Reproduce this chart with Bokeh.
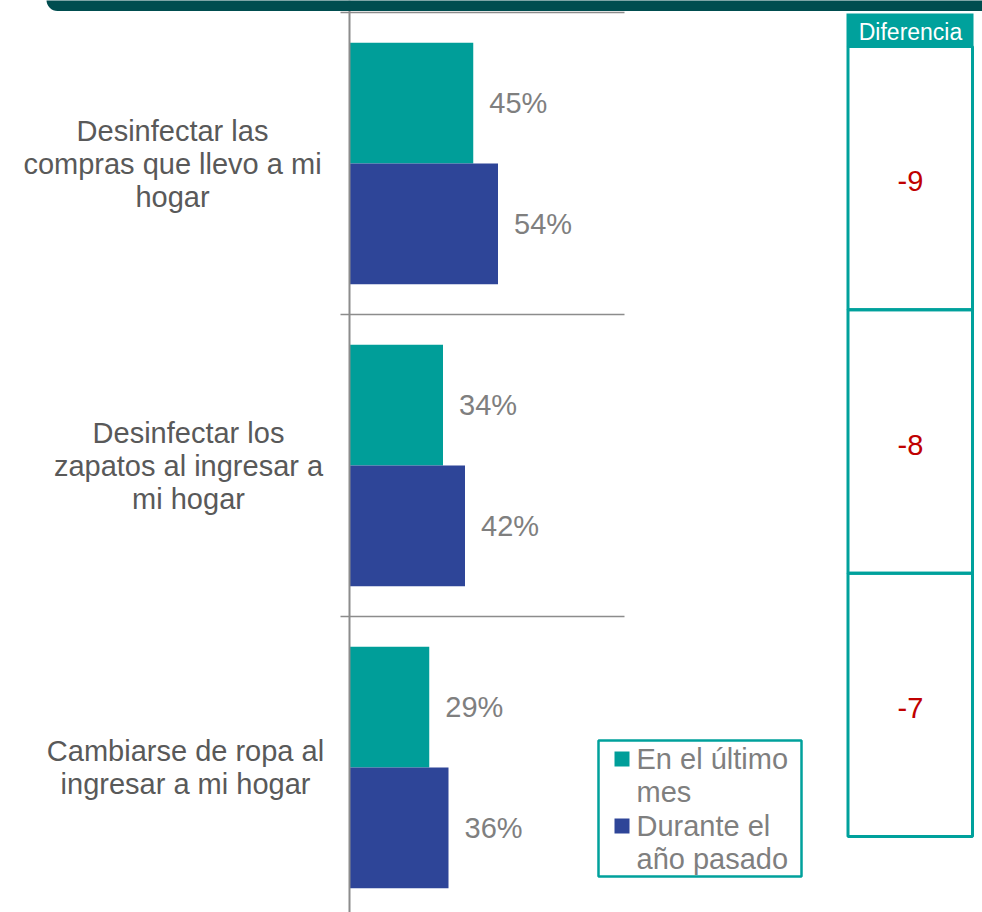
from bokeh.plotting import figure
from bokeh.models import Range1d, LabelSet, Label, BoxAnnotation, ColumnDataSource, Span
from bokeh.embed import file_html
from bokeh.resources import INLINE
from bokeh.core.properties import value

# ---------------- data ----------------
categories = [
    "Desinfectar las compras que llevo a mi hogar",
    "Desinfectar los zapatos al ingresar a mi hogar",
    "Cambiarse de ropa al ingresar a mi hogar",
]
category_lines = [
    ["Desinfectar las", "compras que llevo a mi", "hogar"],
    ["Desinfectar los", "zapatos al ingresar a", "mi hogar"],
    ["Cambiarse de ropa al", "ingresar a mi hogar"],
]
ultimo_mes = [45, 34, 29]
ano_pasado = [54, 42, 36]
series_names = ["En el último mes", "Durante el año pasado"]
legend_lines = [["En el último", "mes"], ["Durante el", "año pasado"]]
diff_title = "Diferencia"
diferencia = [a - b for a, b in zip(ultimo_mes, ano_pasado)]

# ---------------- styling / layout ----------------
TEAL = "#009E99"
BLUE = "#2E4598"
FRAME_TEAL = "#00A19C"
BANNER = "#004D4F"
GRAY_TXT = "#7F7F7F"
CAT_TXT = "#595959"
RED = "#C00000"
AXIS_GRAY = "#8C8C8C"
FONT = "Liberation Sans"

W, H = 982, 912
X0, PXPCT = 349, 2.75      # pixel of 0 %, pixels per percent
Y_TOP, BAND = 12, 302      # pixel of first band top, band height in px


def px2x(px):
    return (px - X0) / PXPCT


def px2y(py):
    return -0.5 + (py - Y_TOP) / BAND


p = figure(width=W, height=H, output_backend="svg", toolbar_location=None, tools="",
           x_range=Range1d(px2x(0), px2x(W)), y_range=Range1d(px2y(H), px2y(0)),
           x_axis_location=None, y_axis_location=None,
           min_border=0, outline_line_color=None,
           background_fill_color="white", border_fill_color="white")
p.grid.visible = False

n = len(categories)
idx = list(range(n))

# category axis: line at 0 %, ticks + separators at band boundaries (up to 100 %)
p.add_layout(Span(location=0, dimension="height", line_color=AXIS_GRAY, line_width=2))
bounds = [i - 0.5 for i in range(n + 1)]
p.segment(x0=[px2x(340)] * len(bounds), x1=[100] * len(bounds), y0=bounds, y1=bounds,
          line_color=AXIS_GRAY, line_width=1.7)

src = ColumnDataSource(dict(
    y1=[i - 0.2 for i in idx], y2=[i + 0.2 for i in idx],
    a=ultimo_mes, b=ano_pasado,
    ta=[f"{v}%" for v in ultimo_mes], tb=[f"{v}%" for v in ano_pasado],
))
p.hbar(y="y1", height=0.4, left=0, right="a", source=src, fill_color=TEAL, line_color=None)
p.hbar(y="y2", height=0.4, left=0, right="b", source=src, fill_color=BLUE, line_color=None)

for xf, yf, tf in (("a", "y1", "ta"), ("b", "y2", "tb")):
    p.add_layout(LabelSet(x=xf, y=yf, text=tf, source=src, x_offset=16,
                          text_baseline="middle", text_align="left",
                          text_font=value(FONT), text_font_size="29px",
                          text_color=GRAY_TXT))

# category labels (multi-line, centred)
cat_center_px = [172, 188, 185]
LINE = 33 / BAND
cx, cy, ct = [], [], []
for i, lines in enumerate(category_lines):
    k = len(lines)
    for j, t in enumerate(lines):
        cx.append(px2x(cat_center_px[i]))
        cy.append(i + (j - (k - 1) / 2) * LINE)
        ct.append(t)
p.text(x="x", y="y", text="t", source=ColumnDataSource(dict(x=cx, y=cy, t=ct)),
       text_align="center", text_baseline="middle",
       text_font=value(FONT), text_font_size="29px", text_color=CAT_TXT)

# Diferencia table
TL, TR = px2x(847.5), px2x(972)
p.add_layout(BoxAnnotation(left=px2x(846), right=px2x(973), top=px2y(13), bottom=px2y(46),
                           fill_color=FRAME_TEAL, fill_alpha=1, line_color=None))
p.add_layout(Label(x=px2x(910), y=px2y(31), text=diff_title, text_align="center",
                   text_baseline="middle", text_font=FONT, text_font_size="23px",
                   text_color="white"))
row_top, row_bot = 46, 836
row_h = (row_bot - row_top) / n
dy = []
for i in idx:
    t = row_top + i * row_h
    p.add_layout(BoxAnnotation(left=TL, right=TR, top=px2y(t), bottom=px2y(t + row_h),
                               fill_alpha=0, line_color=FRAME_TEAL, line_width=3, line_alpha=1))
    dy.append(px2y(t + row_h / 2 + 3))
p.add_layout(LabelSet(x="x", y="y", text="t",
                      source=ColumnDataSource(dict(x=[px2x(910)] * n, y=dy,
                                                   t=[str(d) for d in diferencia])),
                      text_align="center", text_baseline="middle",
                      text_font=value(FONT), text_font_size="29px", text_color=RED))

# legend (manual, multi-line labels)
p.add_layout(BoxAnnotation(left=px2x(598), right=px2x(801), top=px2y(740), bottom=px2y(876),
                           fill_color="white", fill_alpha=1, line_color=FRAME_TEAL,
                           line_width=2.5, line_alpha=1))
leg_colors = [TEAL, BLUE]
sq_tops = [751, 818]
for name_lines, col, st in zip(legend_lines, leg_colors, sq_tops):
    p.add_layout(BoxAnnotation(left=px2x(614), right=px2x(629), top=px2y(st), bottom=px2y(st + 15),
                               fill_color=col, fill_alpha=1, line_color=None))
    for j, t in enumerate(name_lines):
        p.add_layout(Label(x=px2x(636), y=px2y(st + 7 + j * 33.5), text=t,
                           text_align="left", text_baseline="middle",
                           text_font=FONT, text_font_size="29px", text_color=GRAY_TXT))

# top banner (drawn over the axis top)
p.add_layout(BoxAnnotation(left=px2x(46), right=px2x(W + 20), top=px2y(-20), bottom=px2y(10.5),
                           fill_color=BANNER, fill_alpha=1, line_color=None,
                           border_radius=11, level="overlay"))

open("out.html", "w").write(file_html(p, INLINE))
